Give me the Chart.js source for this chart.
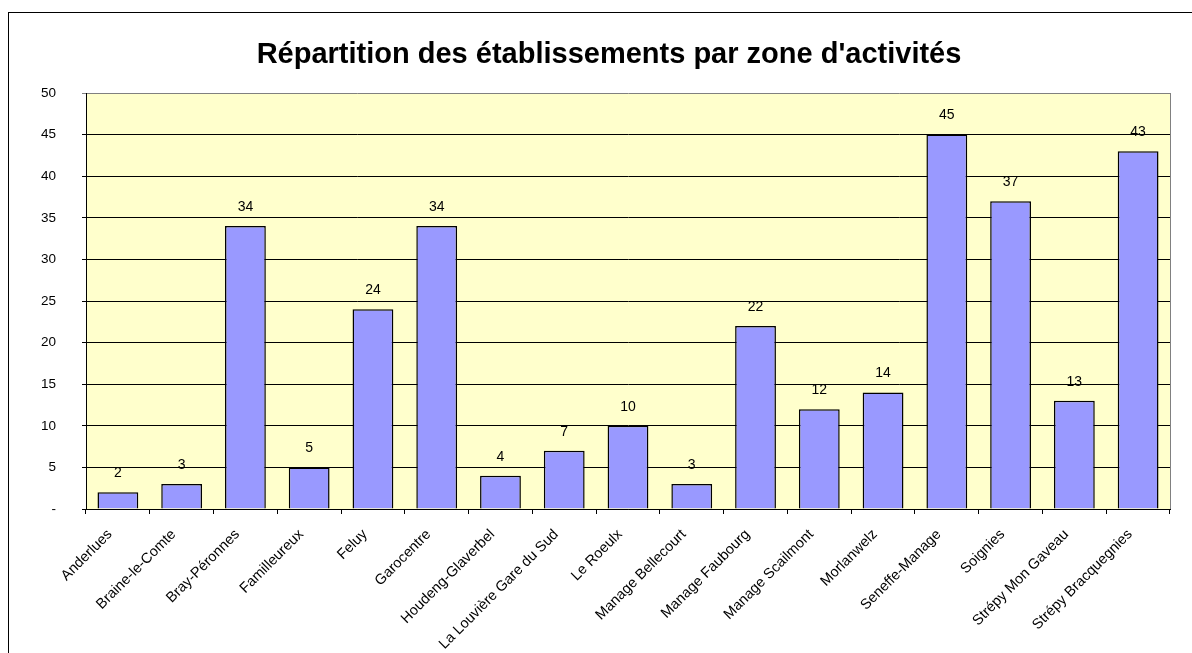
<!DOCTYPE html>
<html>
<head>
<meta charset="utf-8">
<script src="https://cdn.jsdelivr.net/npm/chart.js@4"></script>
<style>
  body { margin: 0; background: #fff; }
  #frame { position: absolute; left: 8px; top: 12px; width: 1200px; height: 700px;
           border-left: 1px solid #000; border-top: 1px solid #000; }
  canvas { position: absolute; left: 0; top: 0; }
</style>
</head>
<body>
<div id="frame"></div>
<canvas id="chart" width="1192" height="653"></canvas>
<script>
// Zones d'activités et nombre d'établissements
const zones = [
    'Anderlues', 'Braine-le-Comte', 'Bray-Péronnes', 'Familleureux', 'Feluy',
    'Garocentre', 'Houdeng-Glaverbel', 'La Louvière Gare du Sud', 'Le Roeulx',
    'Manage Bellecourt', 'Manage Faubourg', 'Manage Scailmont', 'Morlanwelz',
    'Seneffe-Manage', 'Soignies', 'Strépy Mon Gaveau', 'Strépy Bracquegnies'
];
const etablissements = [2, 3, 34, 5, 24, 34, 4, 7, 10, 3, 22, 12, 14, 45, 37, 13, 43];
const yTicks = [0, 5, 10, 15, 20, 25, 30, 35, 40, 45, 50];
const titre = "Répartition des établissements par zone d'activités";

const FONT = "'Liberation Sans', Arial, sans-serif";

// Fond jaune de la zone de tracé + bord droit gris + titre
const plotArea = {
    id: 'plotArea',
    beforeDraw(chart) {
        const { ctx, chartArea: a } = chart;
        ctx.save();
        ctx.fillStyle = '#FFFFCC';
        ctx.fillRect(a.left, a.top, a.right - a.left, a.bottom - a.top);
        ctx.font = 'bold 29px ' + FONT;
        ctx.fillStyle = '#000';
        ctx.textAlign = 'center';
        ctx.textBaseline = 'middle';
        ctx.fillText(titre, 609, 55);
        ctx.restore();
    },
    beforeDatasetsDraw(chart) {
        const { ctx, chartArea: a } = chart;
        ctx.save();
        ctx.strokeStyle = '#808080';
        ctx.lineWidth = 1;
        ctx.beginPath();
        ctx.moveTo(a.right + 0.5, a.top);
        ctx.lineTo(a.right + 0.5, a.bottom);
        ctx.stroke();
        ctx.restore();
    }
};

// Valeurs au-dessus des barres
const valueLabels = {
    id: 'valueLabels',
    afterDatasetsDraw(chart) {
        const { ctx } = chart;
        const meta = chart.getDatasetMeta(0);
        ctx.save();
        ctx.font = '14px ' + FONT;
        ctx.fillStyle = '#000';
        ctx.textAlign = 'center';
        ctx.textBaseline = 'middle';
        meta.data.forEach((bar, i) => {
            ctx.fillText(String(etablissements[i]), bar.x, bar.y - 19);
        });
        ctx.restore();
    }
};

new Chart(document.getElementById('chart'), {
    type: 'bar',
    data: {
        labels: zones,
        datasets: [{
            data: etablissements,
            backgroundColor: '#9999FF',
            borderColor: '#000',
            borderWidth: 1.5,
            barPercentage: 0.64,
            categoryPercentage: 1
        }]
    },
    options: {
        responsive: false,
        animation: false,
        layout: { padding: { left: 0, right: 22, top: 93, bottom: 0 } },
        plugins: {
            legend: { display: false },
            tooltip: { enabled: false },
            title: { display: false }
        },
        scales: {
            x: {
                afterFit(scale) { scale.height = 144; },
                grid: {
                    offset: true,
                    drawOnChartArea: false,
                    drawTicks: true,
                    tickLength: 5,
                    color: '#000'
                },
                border: { display: true, color: '#000', width: 1 },
                ticks: {
                    autoSkip: false,
                    minRotation: 45,
                    maxRotation: 45,
                    padding: 12,
                    labelOffset: -8,
                    color: '#000',
                    font: { family: FONT, size: 14.5 }
                }
            },
            y: {
                min: 0,
                max: 50,
                afterFit(scale) { scale.width = 86; },
                afterBuildTicks(scale) { scale.ticks = yTicks.map(v => ({ value: v })); },
                grid: {
                    drawTicks: true,
                    tickLength: 4,
                    color: ctx => (ctx.tick && ctx.tick.value === 50) ? '#808080' : '#000'
                },
                border: { display: true, color: '#000', width: 1 },
                ticks: {
                    padding: 26,
                    color: '#000',
                    font: { family: FONT, size: 13.5 },
                    callback: v => v === 0 ? '-' : v
                }
            }
        }
    },
    plugins: [plotArea, valueLabels]
});
</script>
</body>
</html>
